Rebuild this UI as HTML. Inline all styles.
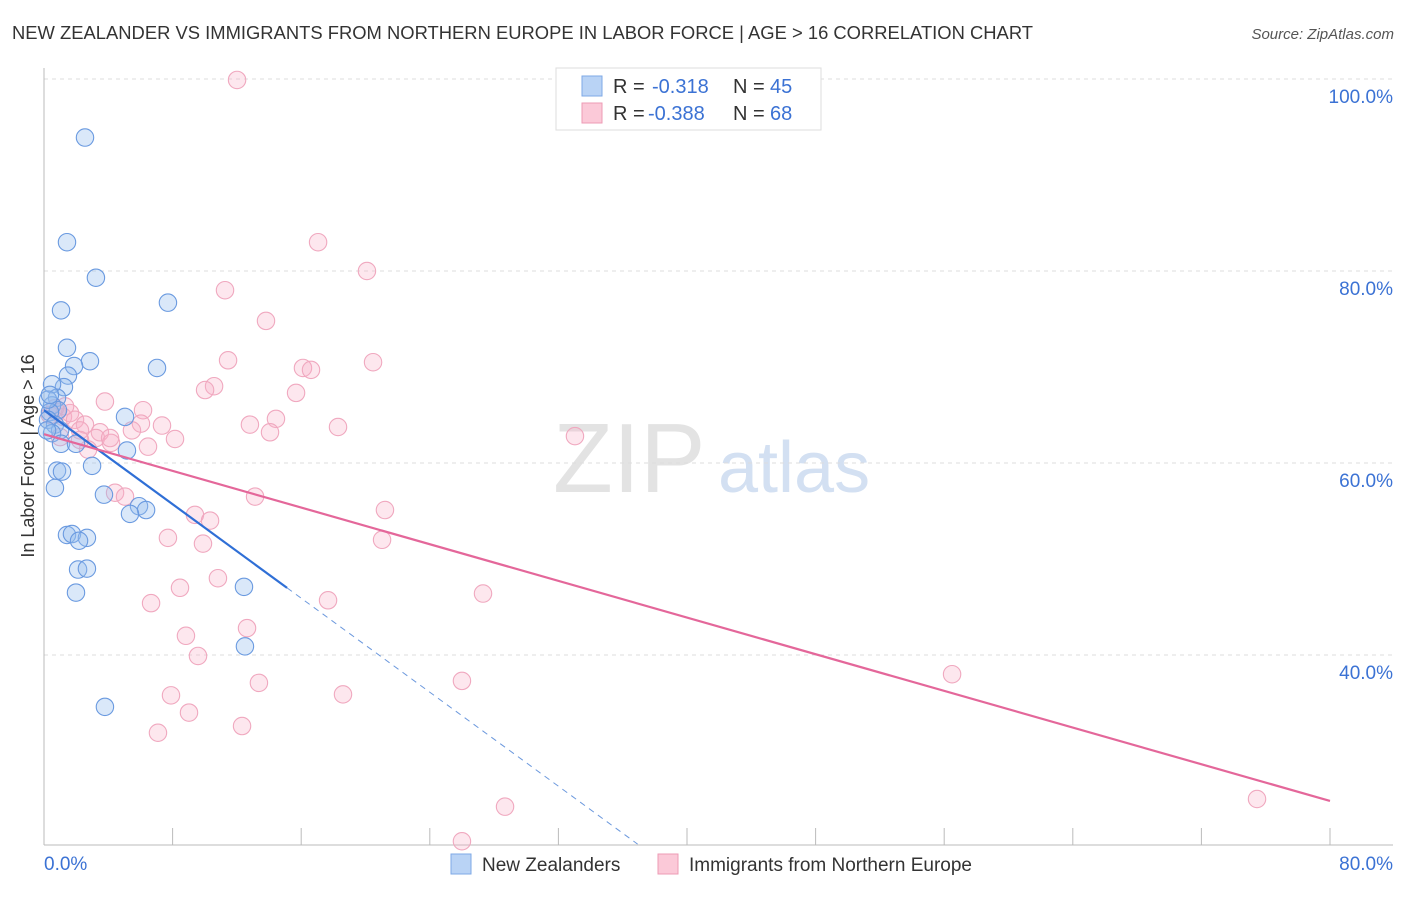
<!DOCTYPE html>
<html><head><meta charset="utf-8"><style>
body{margin:0;background:#fff;font-family:"Liberation Sans",sans-serif;}
svg text{font-family:"Liberation Sans",sans-serif;}
</style></head><body>
<svg id="chart" width="1406" height="892" xmlns="http://www.w3.org/2000/svg">
<text x="12" y="39" font-size="18" fill="#333" textLength="1021" lengthAdjust="spacingAndGlyphs">NEW ZEALANDER VS IMMIGRANTS FROM NORTHERN EUROPE IN LABOR FORCE | AGE &gt; 16 CORRELATION CHART</text>
<text x="1394" y="39" font-size="15" fill="#555" text-anchor="end" font-style="italic">Source: ZipAtlas.com</text>
<text transform="translate(34,456) rotate(-90)" font-size="18" fill="#333" text-anchor="middle">In Labor Force | Age &gt; 16</text>
<g><text x="553" y="492" font-size="98" fill="#e3e3e3" font-family="Liberation Serif">ZIP</text><text x="718" y="492" font-size="72" fill="#d3e0f2">atlas</text></g>
<g id="grid"></g><g id="pts"></g><g id="trends"></g>
<g>
<rect x="556" y="68" width="265" height="62" fill="#fff" stroke="#ddd"/>
<rect x="582" y="76" width="20" height="20" fill="#b9d3f5" stroke="#7ea8e6"/>
<rect x="582" y="103" width="20" height="20" fill="#fbc9d8" stroke="#ee9bb5"/>
<text x="613" y="93" font-size="20" fill="#333">R =</text><text x="652" y="93" font-size="20" fill="#3b72d4">-0.318</text>
<text x="733" y="93" font-size="20" fill="#333">N =</text><text x="770" y="93" font-size="20" fill="#3b72d4">45</text>
<text x="613" y="120" font-size="20" fill="#333">R =</text><text x="648" y="120" font-size="20" fill="#3b72d4">-0.388</text>
<text x="733" y="120" font-size="20" fill="#333">N =</text><text x="770" y="120" font-size="20" fill="#3b72d4">68</text>
</g>
<g>
<rect x="451" y="854" width="20" height="20" fill="#b9d3f5" stroke="#7ea8e6"/>
<text x="482" y="871" font-size="19" fill="#333">New Zealanders</text>
<rect x="658" y="854" width="20" height="20" fill="#fbc9d8" stroke="#ee9bb5"/>
<text x="689" y="871" font-size="19" fill="#333">Immigrants from Northern Europe</text>
</g>
</svg>
<script>
const yTicks=[100,80,60,40];
const xTickLabels=["0.0%","80.0%"];
const blueX=[2.55,1.43,3.23,1.06,7.71,1.43,2.86,1.87,7.03,1.49,1.24,0.50,0.81,0.50,0.87,0.37,0.25,0.68,1.0,0.50,5.04,5.16,1.06,1.99,2.99,0.81,1.12,0.68,3.73,5.91,6.35,5.35,1.43,1.74,2.67,2.18,2.12,2.67,1.99,12.44,12.50,3.79,0.25,0.19,0.37];
const blueY=[93.9,83.0,79.3,75.9,76.7,72.0,70.6,70.1,69.9,69.1,67.9,68.2,66.8,66.0,65.5,65.3,64.5,64.0,63.4,63.1,64.8,61.3,62.0,62.0,59.7,59.2,59.1,57.4,56.7,55.5,55.1,54.7,52.5,52.6,52.2,51.9,48.9,49.0,46.5,47.1,40.9,34.6,66.6,63.4,67.1];
const pinkX=[12.01,17.05,20.09,11.26,13.81,11.45,16.11,16.61,20.47,10.58,10.02,15.68,6.16,3.79,14.43,12.81,14.06,18.29,7.34,6.03,8.15,6.47,33.03,0.81,1.18,1.62,1.93,2.55,2.24,3.48,3.23,4.17,2.74,1.0,4.42,5.04,13.13,9.39,10.33,21.21,7.71,9.89,21.03,27.31,6.66,8.46,10.82,17.67,12.63,8.83,9.58,13.37,7.90,18.60,26.0,9.02,7.09,12.32,56.49,28.68,75.46,26.0,0.68,0.37,1.31,5.47,2.24,4.11];
const pinkY=[99.9,83.0,80.0,78.0,74.8,70.7,69.9,69.7,70.5,68.0,67.6,67.3,65.5,66.4,64.6,64.0,63.2,63.75,63.9,64.1,62.5,61.7,62.8,65.3,64.8,65.2,64.5,64.0,63.4,63.2,62.6,62.1,61.4,62.7,56.9,56.5,56.5,54.6,54.0,55.1,52.2,51.6,52.0,46.4,45.4,47.0,48.0,45.7,42.8,42.0,39.9,37.1,35.8,35.9,37.3,34.0,31.9,32.6,38.0,24.2,25.0,20.6,65.7,65.0,65.9,63.4,62.4,62.6];
const blueTrend=[65.5,-1.224];
const pinkTrend=[63.0,-0.4775];
const X=v=>44+v*16.075, Y=v=>79+(100-v)*9.6;
const NS="http://www.w3.org/2000/svg";
function mk(p,t,a){const e=document.createElementNS(NS,t);for(const k in a)e.setAttribute(k,a[k]);p.appendChild(e);return e;}
const grid=document.getElementById('grid');
yTicks.forEach(v=>{
 const l=mk(grid,'line',{x1:44,x2:1393,y1:Y(v),y2:Y(v),stroke:'#ddd','stroke-dasharray':'4,4'});
 
 
 const t=mk(grid,'text',{x:1393,y:Y(v)+24,'font-size':19,fill:'#3b72d4','text-anchor':'end'});t.textContent=v.toFixed(1)+'%';
 
 
});
mk(grid,'line',{x1:44,x2:44,y1:68,y2:845,stroke:'#bbb'});
mk(grid,'line',{x1:44,x2:1393,y1:845,y2:845,stroke:'#bbb'});
for(let i=1;i<=10;i++){const l=mk(grid,'line',{x1:X(i*8),x2:X(i*8),y1:828,y2:845,stroke:'#bbb'});
 
 }
[[0,'start',xTickLabels[0]],[80,'end',xTickLabels[1]]].forEach(d=>{const t=mk(grid,'text',{x:d[0]?1393:44,y:870,'font-size':19,fill:'#3b72d4','text-anchor':d[1]});t.textContent=d[2];
 
 });
const pts=document.getElementById('pts');
pinkX.forEach((x,i)=>{const c=mk(pts,'circle',{cx:X(x),cy:Y(pinkY[i]),r:8.7,fill:'rgba(248,175,198,0.3)',stroke:'#f0a8bf','stroke-width':1.1});
 
 });
blueX.forEach((x,i)=>{const c=mk(pts,'circle',{cx:X(x),cy:Y(blueY[i]),r:8.7,fill:'rgba(150,188,238,0.35)',stroke:'#6a9ae0','stroke-width':1.1});
 
 });
const tr=document.getElementById('trends');
const bl=v=>blueTrend[0]+blueTrend[1]*v, pl=v=>pinkTrend[0]+pinkTrend[1]*v;
const l1=mk(tr,'line',{x1:X(0),y1:Y(bl(0)),x2:X(15.12),y2:Y(bl(15.12)),stroke:'#2f6fd6','stroke-width':2.2});


const bz=(20.3-blueTrend[0])/blueTrend[1];
const l2=mk(tr,'line',{x1:X(15.12),y1:Y(bl(15.12)),x2:X(bz),y2:Y(bl(bz)),stroke:'#6b98dd','stroke-width':1,'stroke-dasharray':'6,5'});


const l3=mk(tr,'line',{x1:X(0),y1:Y(pl(0)),x2:X(80),y2:Y(pl(80)),stroke:'#e4679a','stroke-width':2.2});


</script>
</body></html>
